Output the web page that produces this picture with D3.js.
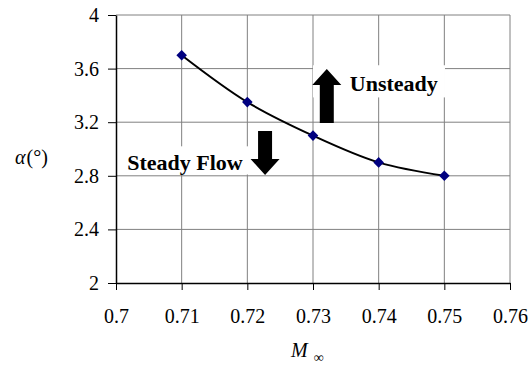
<!DOCTYPE html>
<html>
<head>
<meta charset="utf-8">
<script src="https://cdn.jsdelivr.net/npm/d3@7"></script>
<style>
  body { margin: 0; background: #fff; }
</style>
</head>
<body>
<div id="chart"></div>
<script>
// data
const mach = [0.71, 0.72, 0.73, 0.74, 0.75];
const alpha = [3.7, 3.35, 3.1, 2.9, 2.8];
const xTicks = [0.7, 0.71, 0.72, 0.73, 0.74, 0.75, 0.76];
const yTicks = [2, 2.4, 2.8, 3.2, 3.6, 4];

// annotation anchors in data units
const labels = [
  { text: "Unsteady", x: 0.7356, y: 3.435, box: [0.7300, 3.625, 0.7501, 3.385] },
  { text: "Steady Flow", x: 0.7017, y: 2.843, box: [0.7006, 3.02, 0.7205, 2.81] }
];
const arrows = [
  { dir: "up", x: 0.7321, tip: 3.597, tail: 3.194 },
  { dir: "down", x: 0.7227, tip: 2.806, tail: 3.134 }
];

const serif = '"Liberation Serif"';

chart();

function chart() {
    const width = 530, height = 366;
    const margin = { top: 15, right: 20, bottom: 83, left: 116 };

    const svg = d3.select("#chart").append("svg")
        .attr("width", width)
        .attr("height", height)
        .style("font-family", serif);

    const x = d3.scaleLinear().domain([0.7, 0.76]).range([margin.left, width - margin.right]);
    const y = d3.scaleLinear().domain([2, 4]).range([height - margin.bottom, margin.top]);

    // gridlines
    svg.append("g")
        .selectAll("line")
        .data(xTicks.slice(1))
        .join("line")
        .attr("x1", d => x(d)).attr("x2", d => x(d))
        .attr("y1", y(2)).attr("y2", y(4))
        .attr("stroke", "#808080");
    svg.append("g")
        .selectAll("line")
        .data(yTicks.slice(1))
        .join("line")
        .attr("x1", x(0.7)).attr("x2", x(0.76))
        .attr("y1", d => y(d)).attr("y2", d => y(d))
        .attr("stroke", "#808080");

    // axes
    const xAxis = svg.append("g")
        .attr("transform", `translate(0,${y(2)})`)
        .call(d3.axisBottom(x).tickValues(xTicks).tickFormat(d3.format("")).tickSize(7).tickSizeOuter(0));
    xAxis.select(".domain").attr("stroke", "#000").attr("stroke-width", 1.5);
    xAxis.selectAll(".tick line").attr("stroke", "#000");
    xAxis.selectAll("text")
        .attr("y", 40).attr("dy", "0")
        .style("font-family", serif)
        .style("font-size", "20px")
        .attr("fill", "#000");

    const yAxis = svg.append("g")
        .attr("transform", `translate(${x(0.7)},0)`)
        .call(d3.axisLeft(y).tickValues(yTicks).tickFormat(d3.format("")).tickSize(8).tickPadding(9).tickSizeOuter(0));
    yAxis.select(".domain").attr("stroke", "#000").attr("stroke-width", 1.5);
    yAxis.selectAll(".tick line").attr("stroke", "#000");
    yAxis.selectAll("text")
        .style("font-family", serif)
        .style("font-size", "20px")
        .attr("fill", "#000");

    // white label boxes, text and arrows
    svg.append("g")
        .selectAll("rect")
        .data(labels)
        .join("rect")
        .attr("x", d => x(d.box[0]))
        .attr("y", d => y(d.box[1]))
        .attr("width", d => x(d.box[2]) - x(d.box[0]))
        .attr("height", d => y(d.box[3]) - y(d.box[1]))
        .attr("fill", "#fff");

    svg.append("g")
        .selectAll("text")
        .data(labels)
        .join("text")
        .attr("x", d => x(d.x))
        .attr("y", d => y(d.y))
        .style("font-family", serif)
        .style("font-size", "22px")
        .style("font-weight", "bold")
        .attr("fill", "#000")
        .text(d => d.text);

    const headLen = 16, headHalf = 14.5, shaftHalf = 7;
    svg.append("g")
        .selectAll("path")
        .data(arrows)
        .join("path")
        .attr("fill", "#000")
        .attr("d", d => {
            const cx = x(d.x), tip = y(d.tip), tail = y(d.tail);
            const s = d.dir === "up" ? 1 : -1;
            const base = tip + s * headLen;
            return `M${cx},${tip}L${cx + headHalf},${base}L${cx + shaftHalf},${base}` +
                `L${cx + shaftHalf},${tail}L${cx - shaftHalf},${tail}L${cx - shaftHalf},${base}` +
                `L${cx - headHalf},${base}Z`;
        });

    // smoothed curve
    const pts = mach.map((m, i) => [m, alpha[i]]);
    svg.append("path")
        .datum(pts)
        .attr("fill", "none")
        .attr("stroke", "#000")
        .attr("stroke-width", 2)
        .attr("d", d3.line().x(d => x(d[0])).y(d => y(d[1])).curve(d3.curveCatmullRom));

    // diamond markers
    svg.append("g")
        .selectAll("path")
        .data(pts)
        .join("path")
        .attr("transform", d => `translate(${x(d[0])},${y(d[1])}) rotate(45)`)
        .attr("d", d3.symbol(d3.symbolSquare, 56))
        .attr("fill", "#000080");

    // axis titles
    const yTitle = svg.append("text")
        .attr("x", 15)
        .attr("y", 164)
        .style("font-family", serif)
        .style("font-size", "20px")
        .attr("fill", "#000");
    yTitle.append("tspan").style("font-style", "italic").text("α");
    yTitle.append("tspan").attr("dx", 1).text("(°)");

    const xTitle = svg.append("text")
        .attr("x", 291)
        .attr("y", 357)
        .style("font-family", serif)
        .style("font-size", "20px")
        .attr("fill", "#000");
    xTitle.append("tspan").style("font-style", "italic").text("M");
    xTitle.append("tspan").attr("dx", 6).attr("dy", 5).style("font-size", "14px").text("∞");
}
</script>
</body>
</html>
